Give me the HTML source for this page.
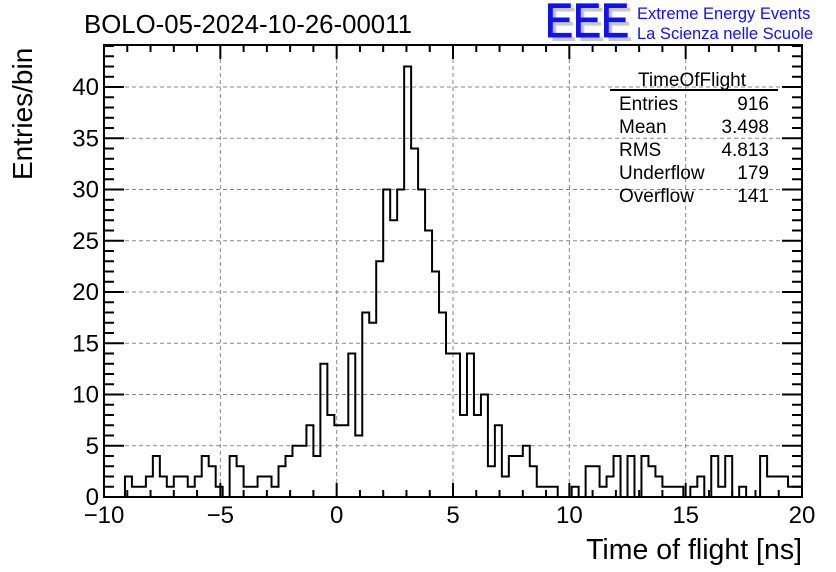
<!DOCTYPE html>
<html><head><meta charset="utf-8"><style>
html,body{margin:0;padding:0;background:#fff;}
svg{display:block;font-family:"Liberation Sans",sans-serif;}
</style></head><body>
<svg id="c" width="836" height="572" xmlns="http://www.w3.org/2000/svg">
<text x="84" y="33" font-size="25.8">BOLO-05-2024-10-26-00011</text>
<g>
<text x="549" y="41" font-size="48" fill="#c8c8c8" textLength="84" lengthAdjust="spacingAndGlyphs">EEE</text>
<text x="545" y="37" font-size="48" fill="#1010ff" stroke="#1010ff" stroke-width="1" textLength="84" lengthAdjust="spacingAndGlyphs">EEE</text>
<text x="637" y="19" font-size="16.5" fill="#1010ff">Extreme Energy Events</text>
<text x="637" y="39" font-size="16.5" fill="#1010ff">La Scienza nelle Scuole</text>
</g>
<g id="grid"></g>
<g id="hist"></g>
<g id="axes"></g>
<g font-size="19">
<text x="692" y="86" text-anchor="middle">TimeOfFlight</text>
<line x1="610" y1="90" x2="778" y2="90" stroke="#000" stroke-width="2"/>
<text x="619" y="110">Entries</text><text x="769" y="110" text-anchor="end">916</text>
<text x="619" y="133">Mean</text><text x="769" y="133" text-anchor="end">3.498</text>
<text x="619" y="156">RMS</text><text x="769" y="156" text-anchor="end">4.813</text>
<text x="619" y="179">Underflow</text><text x="769" y="179" text-anchor="end">179</text>
<text x="619" y="202">Overflow</text><text x="769" y="202" text-anchor="end">141</text>
</g>
<text x="802" y="559" font-size="28.5" text-anchor="end">Time of flight [ns]</text>
<text transform="translate(32,180) rotate(-90)" font-size="28">Entries/bin</text>
</svg>
<script>
const binValues=[0,0,0,2,1,1,2,4,2,1,2,2,1,2,4,3,1,0,4,3,1,1,2,2,1,3,4,5,5,7,4,13,8,7,7,14,6,18,17,23,30,27,30,42,34,30,26,22,18,14,14,8,14,8,10,3,7,2,4,4,5,3,1,1,1,0,0,1,0,3,3,1,2,4,0,4,0,4,3,2,1,1,1,0,1,2,0,4,1,4,0,1,0,0,4,2,2,2,1,1];
const xRange=[-10,20];
const yMax=44.1;
const xTickLabels=["\u221210","\u22125","0","5","10","15","20"];
const yTickLabels=["0","5","10","15","20","25","30","35","40"];
const L=104,R=802,T=45,B=497;
const NS="http://www.w3.org/2000/svg";
const sx=v=>L+(v-xRange[0])/(xRange[1]-xRange[0])*(R-L);
const sy=v=>B-v/yMax*(B-T);
function mk(tag,attrs,parent){const e=document.createElementNS(NS,tag);for(const k in attrs)e.setAttribute(k,attrs[k]);parent.appendChild(e);return e;}
const grid=document.getElementById('grid'),axes=document.getElementById('axes'),hist=document.getElementById('hist');
for(let i=0;i<xTickLabels.length;i++){const v=xRange[0]+5*i;if(v===xRange[0]||v===xRange[1])continue;
 const g=mk('line',{x1:sx(v),x2:sx(v),y1:T,y2:B,stroke:'#888','stroke-dasharray':'4,3','stroke-width':1},grid);
 
 }
for(let i=1;i<yTickLabels.length;i++){const v=5*i;
 const g=mk('line',{x1:L,x2:R,y1:sy(v),y2:sy(v),stroke:'#888','stroke-dasharray':'4,3','stroke-width':1},grid);
 
 }
const bw=(xRange[1]-xRange[0])/binValues.length;
let d='M'+sx(xRange[0])+','+sy(0);
binValues.forEach((v,i)=>{const x0=sx(xRange[0]+i*bw),x1=sx(xRange[0]+(i+1)*bw);d+=' L'+x0+','+sy(v)+' L'+x1+','+sy(v);});
d+=' L'+sx(xRange[1])+','+sy(0);
const p=mk('path',{d:d,fill:'none',stroke:'#000','stroke-width':2},hist);


const f=mk('rect',{x:L,y:T,width:R-L,height:B-T,fill:'none',stroke:'#000','stroke-width':2},axes);


for(let v=xRange[0];v<=xRange[1];v++){const major=(v%5===0);const len=major?14:7;const x=sx(v);
 mk('line',{x1:x,x2:x,y1:B,y2:B-len,stroke:'#000','stroke-width':2},axes);
 mk('line',{x1:x,x2:x,y1:T,y2:T+len,stroke:'#000','stroke-width':2},axes);}
xTickLabels.forEach((s,i)=>{const t=mk('text',{x:sx(xRange[0]+5*i),y:523,'font-size':24,'text-anchor':'middle'},axes);t.textContent=s;
 
 });
for(let v=0;v<=44;v++){const major=(v%5===0);const len=major?20:10;const y=sy(v);
 mk('line',{x1:L,x2:L+len,y1:y,y2:y,stroke:'#000','stroke-width':2},axes);
 mk('line',{x1:R,x2:R-len,y1:y,y2:y,stroke:'#000','stroke-width':2},axes);}
yTickLabels.forEach((s,i)=>{const t=mk('text',{x:99,y:sy(5*i)+8,'font-size':24,'text-anchor':'end'},axes);t.textContent=s;
 
 });
</script>
</body></html>
